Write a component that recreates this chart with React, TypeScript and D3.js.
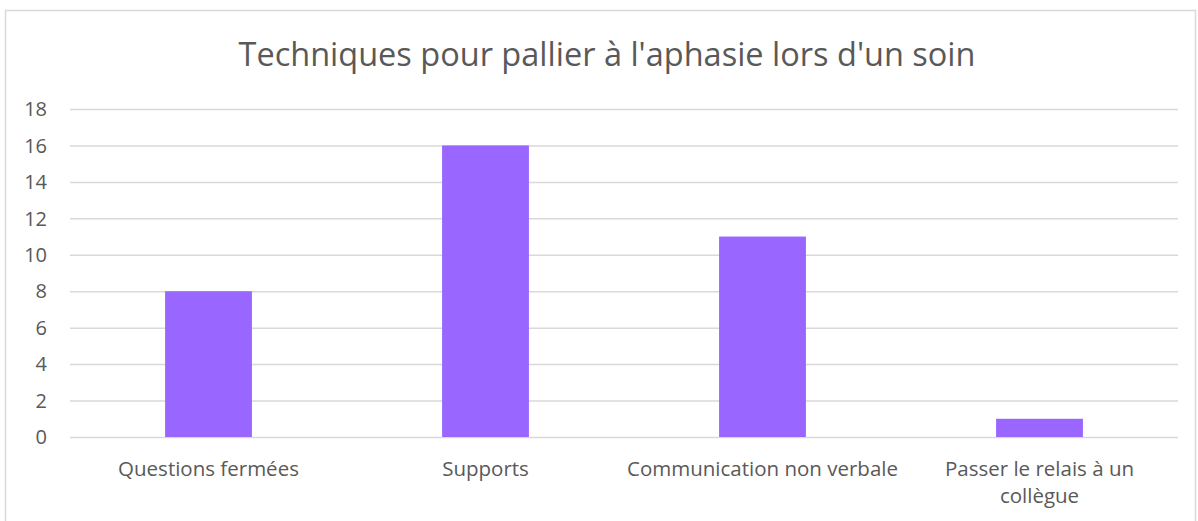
import * as d3 from 'd3';
import React, { useEffect, useRef } from 'react';

const title = "Techniques pour pallier à l'aphasie lors d'un soin";
const categories = ['Questions fermées', 'Supports', 'Communication non verbale', 'Passer le relais à un collègue'];
const counts = [8, 16, 11, 1];
const yTicks = [0, 2, 4, 6, 8, 10, 12, 14, 16, 18];

const FONT = "'Open Sans', 'Liberation Sans', sans-serif";

function App() {
  const svgRef = useRef<SVGSVGElement>(null);

  useEffect(() => {
    const width = 1198;
    const height = 521;
    const margin = { top: 109, right: 20, bottom: 84, left: 70 };

    const svg = d3.select(svgRef.current);
    svg.selectAll('*').remove();
    svg.attr('width', width).attr('height', height);

    // chart frame
    svg.append('rect')
      .attr('x', 5.5).attr('y', 10.5)
      .attr('width', 1190).attr('height', 530)
      .attr('fill', '#fff')
      .attr('stroke', '#d9d9d9')
      .attr('stroke-width', 1.5);

    svg.append('text')
      .attr('x', 607).attr('y', 66)
      .attr('text-anchor', 'middle')
      .attr('font-family', FONT)
      .attr('font-size', 32.5)
      .attr('fill', '#595959')
      .text(title);

    const xScale = d3.scaleBand<string>()
      .domain(categories)
      .range([margin.left, width - margin.right])
      .padding(0);

    const yScale = d3.scaleLinear()
      .domain([0, 18])
      .range([height - margin.bottom, margin.top]);

    // gridlines
    svg.append('g')
      .selectAll('line')
      .data(yTicks)
      .join('line')
      .attr('x1', margin.left)
      .attr('x2', width - margin.right)
      .attr('y1', d => yScale(d) + 0.5)
      .attr('y2', d => yScale(d) + 0.5)
      .attr('stroke', '#d9d9d9')
      .attr('stroke-width', 1.5);

    // y tick labels
    svg.append('g')
      .selectAll('text')
      .data(yTicks)
      .join('text')
      .attr('x', 47)
      .attr('y', d => yScale(d))
      .attr('dy', '0.36em')
      .attr('text-anchor', 'end')
      .attr('font-family', FONT)
      .attr('font-size', 20)
      .attr('fill', '#595959')
      .text(d => d);

    // bars
    const barW = xScale.bandwidth() / 3.19;
    svg.append('g')
      .selectAll('rect')
      .data(counts)
      .join('rect')
      .attr('x', (d, i) => xScale(categories[i])! + (xScale.bandwidth() - barW) / 2)
      .attr('y', d => yScale(d))
      .attr('width', barW)
      .attr('height', d => yScale(0) - yScale(d))
      .attr('fill', '#9966ff');

    // x labels, wrapped to the category width
    const labels = svg.append('g')
      .selectAll('text')
      .data(categories)
      .join('text')
      .attr('x', d => xScale(d)! + xScale.bandwidth() / 2)
      .attr('y', 476)
      .attr('text-anchor', 'middle')
      .attr('font-family', FONT)
      .attr('font-size', 20.5)
      .attr('fill', '#595959');

    const maxW = xScale.bandwidth() * 0.98;
    labels.each(function (d) {
      const text = d3.select(this);
      const x = text.attr('x');
      let line: string[] = [];
      let tspan = text.append('tspan').attr('x', x).attr('dy', 0);
      for (const w of d.split(' ')) {
        line.push(w);
        tspan.text(line.join(' '));
        if ((tspan.node() as SVGTSpanElement).getComputedTextLength() > maxW && line.length > 1) {
          line.pop();
          tspan.text(line.join(' '));
          line = [w];
          tspan = text.append('tspan').attr('x', x).attr('dy', '1.3em').text(w);
        }
      }
    });
  }, []);

  return (
    <div style={{ position: 'fixed', left: 0, top: 0 }}>
      <svg ref={svgRef} style={{ display: 'block' }} />
    </div>
  );
}

export default App;
